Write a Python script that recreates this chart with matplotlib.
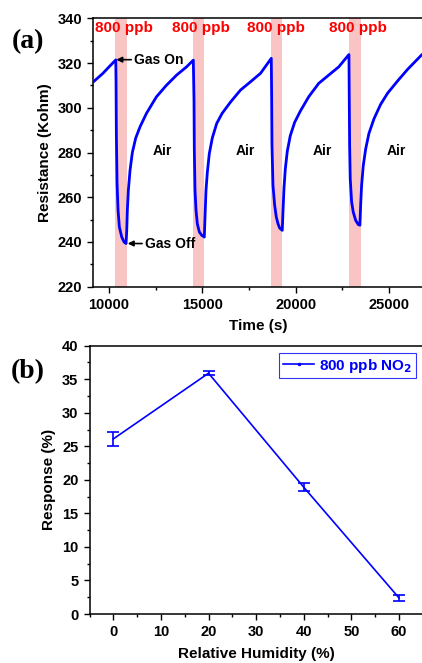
import matplotlib
matplotlib.use("Agg")
import matplotlib.pyplot as plt
from matplotlib.ticker import MultipleLocator
from matplotlib.lines import Line2D

plt.rcParams['font.family'] = ['Liberation Sans', 'DejaVu Sans']
plt.rcParams['font.weight'] = 'bold'

# ---------- Panel (a) data: resistance transient ----------
time_s = [9160, 9672, 10000, 10360,
          10375, 10391, 10429, 10482, 10552, 10680, 10804, 10911,
          10948, 10980, 11034, 11125, 11248, 11430, 11661, 12005, 12540, 13080, 13620, 14155, 14516,
          14553, 14570, 14607, 14661, 14730, 14837, 14966, 15105,
          15143, 15196, 15266, 15373, 15534, 15770, 16060, 16505, 17043, 17580, 18118, 18695,
          18714, 18732, 18785, 18876, 18962, 19053, 19145, 19284,
          19321, 19375, 19445, 19552, 19712, 19948, 20252, 20700, 21236, 21774, 22312, 22857,
          22873, 22894, 22926, 23001, 23087, 23216, 23355, 23446,
          23484, 23537, 23623, 23752, 23928, 24196, 24555, 24928, 25466, 26004, 26751]
resistance = [311.6, 315.4, 318.3, 321.4,
              310.9, 288.5, 266.1, 254.2, 246.7, 242.2, 240.0, 239.3,
              245.2, 254.2, 263.1, 272.1, 280.0, 286.5, 291.5, 297.5, 304.9, 310.1, 314.6, 318.3, 321.3,
              303.4, 281.0, 263.1, 254.2, 248.2, 244.5, 243.0, 242.2,
              251.2, 263.1, 271.0, 279.5, 286.5, 293.0, 297.5, 302.5, 307.9, 311.6, 315.4, 322.1,
              305.7, 283.3, 265.4, 256.4, 251.2, 248.2, 246.2, 245.2,
              253.4, 263.9, 272.5, 280.5, 287.5, 293.5, 298.5, 304.9, 310.9, 314.6, 318.3, 323.8,
              305.7, 283.3, 268.4, 257.9, 253.4, 249.7, 247.8, 247.5,
              256.4, 265.4, 274.0, 281.5, 288.5, 295.0, 301.5, 306.5, 312.0, 317.2, 323.6]
gas_on = [10320, 14516, 18690, 22870]
gas_off = [10950, 15108, 19285, 23495]
conc_labels = ["800 ppb", "800 ppb", "800 ppb", "800 ppb"]
conc_x = [10800, 14920, 18925, 23315]
air_x = [12866, 17310, 21435, 25376]

# ---------- Panel (b) data ----------
humidity = [0, 20, 40, 60]
response = [26.1, 35.9, 18.9, 2.4]
resp_err = [1.0, 0.3, 0.6, 0.5]

W, H = 422, 663
fig = plt.figure(figsize=(W / 100, H / 100), dpi=100)

def frac(x0, y0, x1, y1):
    return [x0 / W, 1 - y1 / H, (x1 - x0) / W, (y1 - y0) / H]

def style(ax):
    ax.tick_params(which='both', direction='out', labelsize=10.5, width=1)
    ax.tick_params(which='major', length=4.5)
    ax.tick_params(which='minor', length=2.5)
    for lab in ax.get_xticklabels() + ax.get_yticklabels():
        lab.set_fontweight('bold')
    for s in ax.spines.values():
        s.set_linewidth(1.1)

# ---- (a) ----
ax1 = fig.add_axes(frac(93.2, 18.3, 422.5, 286.7))
for a, b in zip(gas_on, gas_off):
    ax1.axvspan(a, b, color='#F9C4C4', lw=0, zorder=0)
ax1.plot(time_s, resistance, color='#0000FF', lw=2.0, zorder=3,
         solid_joinstyle='round')
ax1.set_xlim(9150, 26800)
ax1.set_ylim(220, 340)
ax1.xaxis.set_major_locator(MultipleLocator(5000))
ax1.xaxis.set_minor_locator(MultipleLocator(2500))
ax1.yaxis.set_major_locator(MultipleLocator(20))
ax1.yaxis.set_minor_locator(MultipleLocator(10))
style(ax1)
ax1.set_xlabel('Time (s)', fontsize=11, fontweight='bold', labelpad=5)
ax1.set_ylabel('Resistance (Kohm)', fontsize=11, fontweight='bold', labelpad=4)
for lab, x in zip(conc_labels, conc_x):
    ax1.text(x, 335.6, lab, color='#FF0000', fontsize=11, fontweight='bold',
             ha='center', va='center')
for x in air_x:
    ax1.text(x, 280.6, 'Air', color='black', fontsize=10, fontweight='bold',
             ha='center', va='center')
ax1.annotate('Gas On', xy=(10390, 321.5), xytext=(11340, 321.5),
             fontsize=10, fontweight='bold', va='center', ha='left',
             arrowprops=dict(arrowstyle='-|>', color='black', lw=1.2,
                             mutation_scale=8, shrinkA=0, shrinkB=0))
ax1.annotate('Gas Off', xy=(11000, 239.3), xytext=(11920, 239.3),
             fontsize=10, fontweight='bold', va='center', ha='left',
             arrowprops=dict(arrowstyle='-|>', color='black', lw=1.2,
                             mutation_scale=8, shrinkA=0, shrinkB=0))
fig.text(28 / W, 1 - 42 / H, '(a)', fontsize=20, fontweight='bold',
         family=['Liberation Serif'], ha='center', va='center')

# ---- (b) ----
ax2 = fig.add_axes(frac(89.5, 345.7, 422.8, 614.0))
ax2.errorbar(humidity, response, yerr=resp_err, color='#0000FF', lw=1.2,
             elinewidth=1.2, capsize=4, capthick=1.2)
ax2.set_xlim(-5, 65)
ax2.set_ylim(0, 40)
ax2.xaxis.set_major_locator(MultipleLocator(10))
ax2.xaxis.set_minor_locator(MultipleLocator(5))
ax2.yaxis.set_major_locator(MultipleLocator(5))
ax2.yaxis.set_minor_locator(MultipleLocator(2.5))
style(ax2)
ax2.set_xlabel('Relative Humidity (%)', fontsize=11, fontweight='bold', labelpad=6)
ax2.set_ylabel('Response (%)', fontsize=11, fontweight='bold', labelpad=4)
handle = Line2D([], [], color='#0000FF', lw=1.2, marker='o', markersize=1.5)
leg = ax2.legend([handle], ['800 ppb NO$_\\mathbf{2}$'], loc='upper right',
                 bbox_to_anchor=(0.99, 0.985), fontsize=11,
                 frameon=True, fancybox=False, edgecolor='#0000FF',
                 handlelength=2.0, handletextpad=0.35, borderpad=0.25,
                 borderaxespad=0.2)
leg.get_frame().set_linewidth(0.8)
for t in leg.get_texts():
    t.set_color('#0000FF')
    t.set_fontweight('bold')
fig.text(28 / W, 1 - 372 / H, '(b)', fontsize=20, fontweight='bold',
         family=['Liberation Serif'], ha='center', va='center')

fig.savefig('out.png', dpi=100)
